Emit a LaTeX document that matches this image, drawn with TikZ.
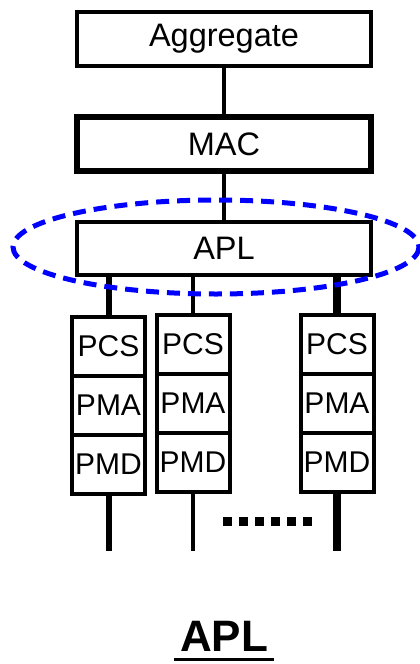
\documentclass[tikz,border=0pt]{standalone}
\usepackage{fontspec}
\setmainfont{Liberation Sans}
\usetikzlibrary{positioning}
\tikzstyle{layer} = [draw, line width=4pt, minimum width=294pt, minimum height=54pt, inner sep=0pt, font=\fontsize{32.5}{36}\selectfont]
\tikzstyle{cell} = [draw, line width=4pt, minimum width=73pt, minimum height=59pt, inner sep=0pt, outer sep=0pt, font=\fontsize{30}{36}\selectfont]
\tikzstyle{link} = [line width=4.5pt]
\tikzstyle{group} = [blue, line width=5pt, dash pattern=on 13pt off 8pt]

\begin{document}
\begin{tikzpicture}[x=1pt,y=-1pt,node distance=0pt]
    \useasboundingbox (0,0) rectangle (420,664);
    \node[layer] (agg) at (224,39) {Aggregate};
    \node[layer, line width=6pt] (mac) at (224,144) {MAC};
    \node[layer, minimum height=53pt] (apl) at (224,248.5) {APL};
    \draw[link] (agg) -- (mac);
    \draw[link] (mac) -- (apl);
    \foreach \n/\x/\y/\w in {1/108.5/346.5/6, 2/193/344.5/4.5, 3/337/344.5/8}{
        \node[cell] (pcs\n) at (\x,\y) {PCS};
        \node[cell, below=of pcs\n] (pma\n) {PMA};
        \node[cell, below=of pma\n] (pmd\n) {PMD};
        \coordinate (end\n) at (\x,551);
        \draw[line width=\w pt] (pcs\n) -- (pcs\n |- apl.south);
        \draw[line width=\w pt] (pmd\n) -- (end\n);
    }
    \draw[line width=9pt, dash pattern=on 9pt off 7pt] (223,521) -- (312,521);
    \draw[group] (216,247) ellipse [x radius=203, y radius=47];
    \node[font=\bfseries\fontsize{44}{50}\selectfont, inner sep=5.5pt] (title) at (224,636) {APL};
    \draw[line width=3.5pt] ([yshift=-2.5pt]title.south west) -- ([yshift=-2.5pt]title.south east);
\end{tikzpicture}
\end{document}
